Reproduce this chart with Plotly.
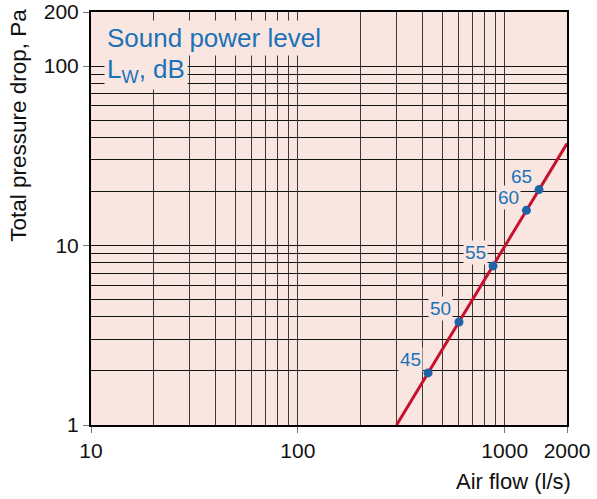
import math
import plotly.graph_objects as go

# ---- data ----
air_flow = [426, 601, 878, 1273, 1465]          # l/s
pressure_drop = [1.95, 3.75, 7.7, 15.7, 20.5]   # Pa
sound_levels = ["45", "50", "55", "60", "65"]   # Lw, dB
curve_flow = [300, 2000]
curve_pressure = [1.0, 37.0]

x_major = [10, 100, 1000, 2000]
x_major_text = ["10", "100", "1000", "2000"]
x_minor = [20, 30, 40, 50, 60, 70, 80, 90, 200, 300, 400, 500, 600, 700, 800, 900]
y_major = [1, 10, 100, 200]
y_major_text = ["1", "10", "100", "200"]
y_minor = [2, 3, 4, 5, 6, 7, 8, 9, 20, 30, 40, 50, 60, 70, 80, 90]

# ---- style ----
BG = "#f9e6e0"
GRID_V = "#3a3a3a"
GRID_H = "#151515"
BLUE_TXT = "#1c72b8"
BLUE_DOT = "#1f63a6"
RED = "#c8102e"
FONT = "Liberation Sans, Arial, sans-serif"

fig = go.Figure()
fig.add_trace(go.Scatter(x=curve_flow, y=curve_pressure, mode="lines",
                         line=dict(color=RED, width=3), hoverinfo="skip"))
fig.add_trace(go.Scatter(x=air_flow, y=pressure_drop, mode="markers",
                         marker=dict(color=BLUE_DOT, size=9), hoverinfo="skip"))

for xf, yp, lab in zip(air_flow, pressure_drop, sound_levels):
    fig.add_annotation(x=math.log10(xf), y=math.log10(yp), xref="x", yref="y",
                       text=lab, showarrow=False,
                       xshift=-18, yshift=13, bgcolor=BG, borderpad=1,
                       font=dict(family=FONT, size=19, color=BLUE_TXT),
                       xanchor="center", yanchor="middle")

fig.add_annotation(x=0.027, y=0.937, xref="paper", yref="paper", xanchor="left",
                   yanchor="middle", text="Sound power level", showarrow=False,
                   bgcolor=BG, borderpad=2,
                   font=dict(family=FONT, size=26, color=BLUE_TXT))
fig.add_annotation(x=0.027, y=0.858, xref="paper", yref="paper", xanchor="left",
                   yanchor="middle", text="L<sub>W</sub>, dB", showarrow=False,
                   bgcolor=BG, borderpad=2,
                   font=dict(family=FONT, size=26, color=BLUE_TXT))

fig.add_annotation(x=1.013, y=-0.138, xref="paper", yref="paper", xanchor="right",
                   yanchor="middle", text="Air flow (l/s)", showarrow=False,
                   font=dict(family=FONT, size=22, color="#111"))
fig.add_annotation(x=-0.153, y=0.725, xref="paper", yref="paper", xanchor="center",
                   yanchor="middle", text="Total pressure drop, Pa", showarrow=False,
                   textangle=-90, font=dict(family=FONT, size=22.5, color="#111"))

axis_common = dict(type="log", showgrid=True, gridwidth=1,
                   zeroline=False, showline=True, linecolor="#000", linewidth=2,
                   mirror=True, ticks="outside", ticklen=6, tickcolor="#777",
                   tickwidth=1, automargin=False, ticklabeloverflow="allow",
                   tickfont=dict(family=FONT, size=21, color="#111"))

fig.update_xaxes(**axis_common, gridcolor=GRID_V, range=[1, 3.30103], tickmode="array",
                 tickvals=x_major, ticktext=x_major_text,
                 minor=dict(tickmode="array", tickvals=x_minor, showgrid=True,
                            gridcolor=GRID_V, gridwidth=1.3, ticks=""))
fig.update_yaxes(**axis_common, gridcolor=GRID_H, range=[0, 2.30103], tickmode="array",
                 tickvals=y_major, ticktext=y_major_text,
                 minor=dict(tickmode="array", tickvals=y_minor, showgrid=True,
                            gridcolor=GRID_H, gridwidth=1, ticks=""))

fig.update_layout(width=597, height=499, showlegend=False,
                  margin=dict(l=91, r=30, t=12, b=74, pad=0, autoexpand=False),
                  plot_bgcolor=BG, paper_bgcolor="#ffffff",
                  font=dict(family=FONT))

# remove the page's default 8px body margin so the figure fills the window
fig.write_html("out.html", config={"displayModeBar": False},
               post_script="document.body.style.margin='0px';")
